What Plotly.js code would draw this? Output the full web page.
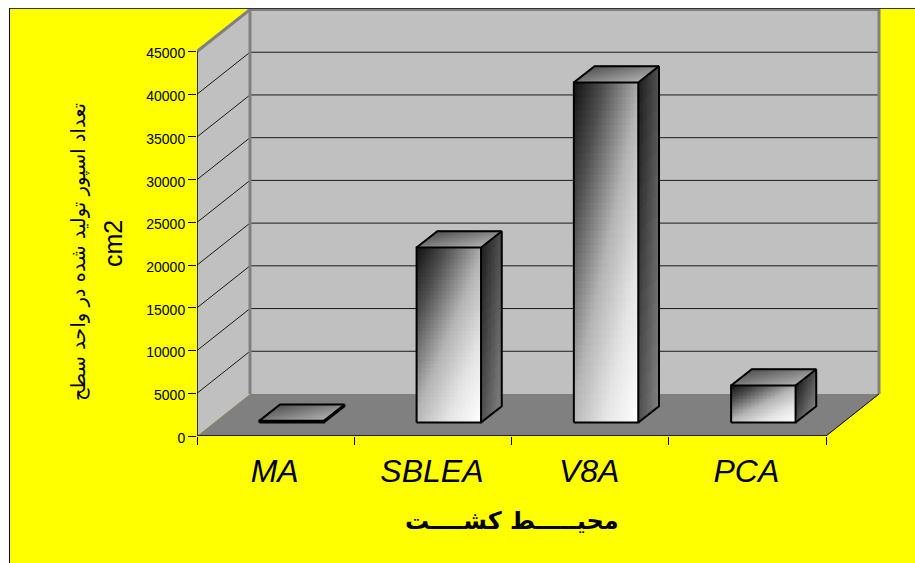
<!DOCTYPE html>
<html><head><meta charset="utf-8">
<script src="https://cdn.plot.ly/plotly-3.0.1.min.js"></script>
<style>
html,body{margin:0;padding:0;background:#fff;overflow:hidden}
#wrap{position:absolute;left:9px;top:8px;width:906px;height:555px;border-left:1px solid #000;border-top:1px solid #333;box-sizing:border-box}
#chart{width:905px;height:554px}
</style></head><body><div id="wrap"><div id="chart"></div></div>
<script>
const categories = ['MA','SBLEA','V8A','PCA'];
const values = [200, 20480, 39800, 4330];
const yTicks = [0,5000,10000,15000,20000,25000,30000,35000,40000,45000];
const yTitleMain = 'تعداد اسپور تولید شده در واحد سطح';
const yTitleUnit = 'cm2';
const xTitle = 'محیـــــط کشــــت';

const W = 686, H = 427, ML = 187;
const pxX = 157.25, pxY = 42.72/5000;
const xr = [-0.5, -0.5 + W/pxX], yr = [0, H/pxY];
const DX = 53/pxX, DY = 42/pxY;
const P = (x, v, d) => [x + d*DX, v + d*DY];
const D0 = 0.32, D1 = 0.71, HW = 0.205, SH = -1/pxX;

const poly = pts => 'M' + pts.map(p => p[0] + ',' + p[1]).join(' L') + ' Z';
const xa = -0.5, xb = 3.5;
const maxTick = yTicks[yTicks.length-1];
const shapes = [];
const addPoly = (pts, fill) => shapes.push({type:'path',layer:'below',xref:'x',yref:'y',path:poly(pts),fillcolor:fill,line:{width:0}});
const addLine = (pts, color, width) => shapes.push({type:'path',layer:'below',xref:'x',yref:'y',path:'M'+pts.map(p=>p[0]+','+p[1]).join(' L'),line:{color:color,width:width}});
addPoly([P(xa,0,0),P(xa,0,1),P(xa,maxTick,1),P(xa,maxTick,0)], '#c0c0c0');
addPoly([P(xa,0,1),P(xb,0,1),P(xb,maxTick,1),P(xa,maxTick,1)], '#c0c0c0');
addPoly([P(xa,0,0),P(xb,0,0),P(xb,0,1),P(xa,0,1)], '#808080');
yTicks.slice(1,-1).forEach(t => addLine([P(xa,t,0),P(xa,t,1),P(xb,t,1)], '#1a1a1a', 1));
addLine([P(xa,maxTick,0),P(xa,maxTick,1),P(xb,maxTick,1),P(xb,0,1)], '#808080', 3);
addLine([P(xa,0,1),P(xa,maxTick,1)], '#808080', 3);
addLine([P(xb,0,0),P(xb,0,1)], '#000', 1);

const scale = [[0,'#111111'],[0.22,'#505050'],[0.5,'#b4b4b4'],[0.75,'#e4e4e4'],[1,'#ffffff']];
const toHex = t => { const g = Math.round(t); const h = g.toString(16).padStart(2,'0'); return '#'+h+h+h; };

const traces = [];
const NF = 48;
const outlines = {x:[],y:[]};
const addOut = pts => { pts.forEach(p=>{outlines.x.push(p[0]);outlines.y.push(p[1]);}); outlines.x.push(null);outlines.y.push(null); };
const steps = n => Array.from({length:n+1},(_,i)=>i/n);

function addQuads(bins, quad, level){
  const k = level;
  bins[k] = bins[k] || {x:[],y:[]};
  quad.concat([quad[0]]).forEach(p=>{bins[k].x.push(p[0]);bins[k].y.push(p[1]);});
  bins[k].x.push(null);bins[k].y.push(null);
}

categories.forEach((c,i) => {
  const xc = i + SH, v = values[i];
  const x0 = xc - HW, x1 = xc + HW;
  const yb = D0*DY;
  const xs = steps(NF).map(u => x0 + D0*DX + u*(x1-x0));
  const ys = steps(NF).map(u => yb + u*v);
  const z = steps(NF-1).map((_,r) => steps(NF-1).map((_,q) => {
    const u = (q+0.5)/NF, w = 1-(r+0.5)/NF;
    return 0.47*u + 0.53*w;
  }));
  traces.push({type:'heatmap',x:xs,y:ys,z:z,zmin:0,zmax:1,colorscale:scale,showscale:false,hoverinfo:'skip',xgap:0,ygap:0});
  const bins = {};
  const NS = 16, NH = 16;
  for(let s=0;s<NS;s++) for(let h=0;h<NH;h++){
    const a = D0+(D1-D0)*s/NS, b = D0+(D1-D0)*(s+1)/NS;
    const v0 = v*h/NH, v1 = v*(h+1)/NH;
    const t = 0.5*(s+0.5)/NS + 0.5*(1-(h+0.5)/NH);
    addQuads(bins,[P(x1,v0,a),P(x1,v0,b),P(x1,v1,b),P(x1,v1,a)],Math.round(0x1c+(0x82-0x1c)*t));
  }
  const NU = 30, NV = 8;
  for(let a=0;a<NU;a++) for(let b=0;b<NV;b++){
    const u0=x0+(x1-x0)*a/NU,u1=x0+(x1-x0)*(a+1)/NU;
    const d0=D0+(D1-D0)*b/NV,d1=D0+(D1-D0)*(b+1)/NV;
    const t=0.55*(a+0.5)/NU+0.45*(1-(b+0.5)/NV);
    addQuads(bins,[P(u0,v,d0),P(u1,v,d0),P(u1,v,d1),P(u0,v,d1)],Math.round(0x50+(0xb0-0x50)*t));
  }
  Object.keys(bins).forEach(k=>{
    traces.push({type:'scatter',mode:'lines',x:bins[k].x,y:bins[k].y,fill:'toself',fillcolor:toHex(+k),line:{color:toHex(+k),width:1},hoverinfo:'skip',showlegend:false});
  });
  addOut([P(x0,0,D0),P(x1,0,D0),P(x1,v,D0),P(x0,v,D0),P(x0,0,D0)]);
  addOut([P(x1,0,D0),P(x1,0,D1),P(x1,v,D1),P(x1,v,D0)]);
  addOut([P(x0,v,D0),P(x0,v,D1),P(x1,v,D1)]);
});
traces.push({type:'scatter',mode:'lines',x:outlines.x,y:outlines.y,line:{color:'#000',width:2},hoverinfo:'skip',showlegend:false});
traces.push({type:'scatter',mode:'lines',cliponaxis:false,x:[xa,xa,null,xa,xb],y:[maxTick,0,null,0,0],line:{color:'#000',width:1.5},hoverinfo:'skip',showlegend:false});

const ann = (text, cx, cy, angle, font) => ({text:text,xref:'paper',yref:'paper',x:(cx-10-ML)/W,y:1-(cy-9)/H,xanchor:'center',yanchor:'middle',showarrow:false,textangle:angle,font:font});
const layout = {
  width:905,height:554,showlegend:false,
  margin:{l:ML,r:905-ML-W,t:0,b:554-H,pad:0},
  paper_bgcolor:'#ffff00',plot_bgcolor:'#ffff00',
  font:{family:"'Liberation Sans','DejaVu Sans',sans-serif",color:'#000'},
  shapes:shapes,
  annotations:[
    ann(yTitleMain,79,252,-90,{family:"'DejaVu Sans',sans-serif",size:19.5,color:'#000'}),
    ann(yTitleUnit,113,244,-90,{family:"'Liberation Sans',sans-serif",size:25,color:'#000'}),
    ann(xTitle,511.5,521,0,{family:"'DejaVu Sans',sans-serif",size:24,weight:'bold',color:'#000'})
  ],
  xaxis:{range:xr,showgrid:false,zeroline:false,showline:false,
    tickmode:'array',tickvals:categories.map((_,i)=>i),ticktext:categories,ticks:'',ticklabelstandoff:13,ticklabelshift:-1,
    tickfont:{family:"'Liberation Sans',sans-serif",size:32,style:'italic',color:'#000'},
    minor:{tick0:-0.5,dtick:1,ticks:'outside',ticklen:8,tickcolor:'#000',tickwidth:1,showgrid:false}},
  yaxis:{range:yr,showgrid:false,zeroline:false,showline:false,
    tickmode:'array',tickvals:yTicks,tickformat:'d',ticks:'outside',ticklen:8,tickwidth:1,tickcolor:'#000',ticklabelshift:2,
    tickfont:{family:"'Liberation Sans',sans-serif",size:14,color:'#000'}}
};
Plotly.newPlot('chart',traces,layout,{displayModeBar:false,staticPlot:true});
</script></body></html>
